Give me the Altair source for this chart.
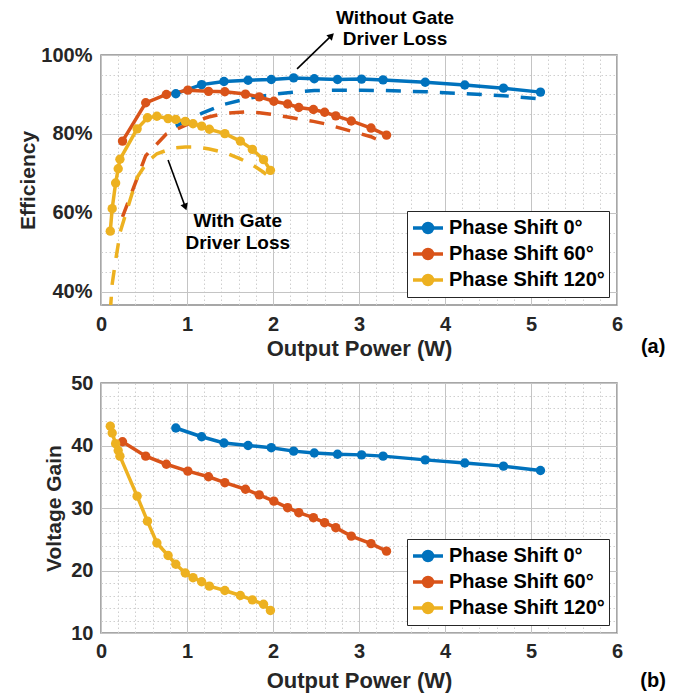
import altair as alt
import pandas as pd

FONT = "Liberation Sans"
SERIES = ["Phase Shift 0°", "Phase Shift 60°", "Phase Shift 120°"]
COLORS = ["#0072BD", "#D95319", "#EDB120"]

# ---- Phase shift 0 deg
p0_x = [0.87, 1.17, 1.43, 1.71, 1.98, 2.24, 2.48, 2.75, 3.03, 3.28, 3.77, 4.23, 4.68, 5.11]
p0_eff = [90.2, 92.5, 93.3, 93.6, 93.8, 94.2, 94.0, 93.8, 93.9, 93.7, 93.1, 92.4, 91.6, 90.6]
p0_eff_gd = [82.0, 85.2, 87.5, 89.0, 90.0, 90.6, 91.0, 91.1, 91.1, 91.0, 90.7, 90.2, 89.7, 88.9]
p0_gain = [42.8, 41.4, 40.4, 40.0, 39.65, 39.1, 38.8, 38.6, 38.5, 38.3, 37.7, 37.2, 36.7, 36.0]

# ---- Phase shift 60 deg
p60_x = [0.25, 0.52, 0.76, 1.01, 1.25, 1.44, 1.68, 1.84, 2.01, 2.17, 2.30, 2.47, 2.60, 2.73, 2.91, 3.14, 3.32]
p60_eff = [78.2, 87.9, 90.0, 91.1, 90.8, 90.7, 90.1, 89.4, 88.3, 87.6, 86.7, 86.2, 85.5, 84.6, 83.3, 81.5, 79.7]
p60_eff_gd = [59.0, 74.5, 80.0, 82.5, 84.3, 85.2, 85.6, 85.4, 84.9, 84.3, 83.8, 83.2, 82.6, 81.8, 80.7, 79.3, 77.5]
p60_gain = [40.6, 38.3, 37.0, 35.9, 35.0, 34.05, 33.0, 32.1, 31.1, 30.05, 29.25, 28.45, 27.65, 26.85, 25.5, 24.3, 23.1]

# ---- Phase shift 120 deg
p120_x = [0.108, 0.13, 0.17, 0.20, 0.22, 0.42, 0.54, 0.65, 0.78, 0.87, 0.98, 1.07, 1.17, 1.26, 1.44, 1.62, 1.76, 1.89, 1.97]
p120_eff = [55.4, 61.1, 67.6, 71.2, 73.6, 81.3, 84.1, 84.5, 83.9, 83.7, 83.2, 82.6, 82.0, 81.2, 80.1, 78.2, 76.1, 73.5, 70.8]
p120_eff_gd = [35.0, 42.0, 48.0, 52.0, 55.0, 69.0, 73.0, 75.0, 76.0, 76.5, 76.7, 76.7, 76.5, 76.2, 75.3, 73.7, 72.2, 70.3, 69.0]
p120_gain = [43.1, 42.0, 40.3, 39.2, 38.3, 31.9, 27.9, 24.4, 22.4, 21.0, 19.6, 18.85, 18.2, 17.5, 16.8, 16.0, 15.3, 14.6, 13.6]

# ---- axis ticks
x_major = [0, 1, 2, 3, 4, 5, 6]
x_minor = [i / 5 for i in range(31)]
eff_major = [40, 60, 80, 100]
eff_minor = [40 + 5 * i for i in range(13)]
gain_major = [10, 20, 30, 40, 50]
gain_minor = [10 + 2 * i for i in range(21)]

# ---- annotations (data coordinates of panel a)
arrow_x = [2.28, 0.78]
arrow_y = [96.5, 73.4]
arrow_x2 = [2.68, 0.98]
arrow_y2 = [104.9, 61.5]
arrow_angle = [45, 160]
note_text = ["Without Gate", "Driver Loss", "With Gate", "Driver Loss"]
note_x = [3.42, 3.42, 1.59, 1.59]
note_y = [109.3, 104.1, 58.0, 52.4]


def long_df(xs, ys):
    rows = []
    for s, xv, yv in zip(SERIES, xs, ys):
        for a, b in zip(xv, yv):
            rows.append({"x": a, "y": b, "series": s})
    return pd.DataFrame(rows)


eff_df = long_df([p0_x, p60_x, p120_x], [p0_eff, p60_eff, p120_eff])
eff_gd_df = long_df([p0_x, p60_x, p120_x], [p0_eff_gd, p60_eff_gd, p120_eff_gd])
gain_df = long_df([p0_x, p60_x, p120_x], [p0_gain, p60_gain, p120_gain])

LABEL_STYLE = dict(labelFont=FONT, labelFontSize=20, labelFontWeight="bold", labelColor="#262626",
                   titleFont=FONT, titleFontWeight="bold", titleColor="#262626")


def make_legend():
    return alt.Legend(
        title=None,
        orient="bottom-right",
        offset=8,
        symbolType="M-1,0L1,0M-0.3,0A0.3,0.3,0,1,1,0.3,0A0.3,0.3,0,1,1,-0.3,0Z",
        symbolSize=900,
        symbolStrokeWidth=3.5,
        labelFont=FONT,
        labelFontSize=20,
        labelFontWeight="bold",
        labelColor="#000000",
        labelLimit=400,
        labelOffset=4,
        strokeColor="#262626",
        fillColor="white",
        padding=4,
        rowPadding=0,
        clipHeight=26,
    )


def major_axis(values, title, orient, lp, tp, title_size, label_expr=None):
    kw = dict(values=values, grid=True, gridColor="#c4c4c4", gridWidth=1, title=title,
              ticks=False, domain=False, labelPadding=lp, titlePadding=tp, orient=orient,
              labelFlush=False, labelOverlap=False, format="d", titleFontSize=title_size,
              **LABEL_STYLE)
    if label_expr:
        kw["labelExpr"] = label_expr
    return alt.Axis(**kw)


def minor_axis(values, orient):
    return alt.Axis(values=values, grid=True, gridColor="#cfcfcf", gridDash=[1.5, 2.5],
                    gridWidth=1, labels=False, ticks=False, domain=False, title=None,
                    orient=orient)


def panel(solid_df, dash_df, y_domain, y_major, y_minor, y_title, y_label_expr,
          width, x_lp, x_tp, y_lp, y_tp, extra_layers):
    xs = alt.Scale(domain=[0, 6], nice=False, zero=False)
    ys = alt.Scale(domain=y_domain, nice=False, zero=False)
    stroke = alt.Stroke("series:N", scale=alt.Scale(domain=SERIES, range=COLORS),
                        legend=make_legend(), sort=SERIES)
    fill = alt.Fill("series:N", scale=alt.Scale(domain=SERIES, range=COLORS),
                    legend=make_legend(), sort=SERIES)
    base = alt.Chart(solid_df)
    minor = base.mark_point(opacity=0).encode(
        x=alt.X("x:Q", scale=xs, axis=minor_axis(x_minor, "bottom")),
        y=alt.Y("y:Q", scale=ys, axis=minor_axis(y_minor, "left")),
    )
    line = base.mark_line(strokeWidth=3.5).encode(
        x=alt.X("x:Q", scale=xs, axis=major_axis(x_major, "Output Power (W)", "bottom", x_lp, x_tp, 22)),
        y=alt.Y("y:Q", scale=ys, axis=major_axis(y_major, y_title, "left", y_lp, y_tp, 21, y_label_expr)),
        stroke=stroke, order=alt.Order("x:Q"))
    pts = base.mark_point(filled=True, size=88, opacity=1, strokeWidth=0).encode(
        x=alt.X("x:Q", scale=xs, axis=None), y=alt.Y("y:Q", scale=ys, axis=None), fill=fill)
    layers = [minor]
    if dash_df is not None:
        dash = alt.Chart(dash_df).mark_line(strokeWidth=3.5, strokeDash=[15, 12], clip=True).encode(
            x=alt.X("x:Q", scale=xs, axis=None), y=alt.Y("y:Q", scale=ys, axis=None),
            stroke=stroke, order=alt.Order("x:Q"))
        layers.append(dash)
    layers += [line, pts]
    for lay in extra_layers:
        layers.append(lay(xs, ys))
    return alt.layer(*layers).resolve_axis(x="independent", y="independent").properties(
        width=width, height=250)


def text_layer(df, size, color="black"):
    def build(xs, ys):
        return alt.Chart(df).mark_text(font=FONT, fontSize=size, fontWeight="bold", color=color).encode(
            x=alt.X("x:Q", scale=xs, axis=None), y=alt.Y("y:Q", scale=ys, axis=None), text="t:N")
    return build


arr_df = pd.DataFrame({"x": arrow_x, "y": arrow_y, "x2": arrow_x2, "y2": arrow_y2, "angle": arrow_angle})
note_df = pd.DataFrame({"x": note_x, "y": note_y, "t": note_text})
tag_a = pd.DataFrame({"x": [6.42], "y": [26.1], "t": ["(a)"]})
tag_b = pd.DataFrame({"x": [6.42], "y": [2.3], "t": ["(b)"]})


def rules_layer(xs, ys):
    return alt.Chart(arr_df).mark_rule(color="black", strokeWidth=1.6).encode(
        x=alt.X("x:Q", scale=xs, axis=None), y=alt.Y("y:Q", scale=ys, axis=None),
        x2="x2:Q", y2="y2:Q")


def heads_layer(xs, ys):
    return alt.Chart(arr_df).mark_point(shape="triangle-up", filled=True, color="black",
                                        size=60, opacity=1).encode(
        x=alt.X("x2:Q", scale=xs, axis=None), y=alt.Y("y2:Q", scale=ys, axis=None),
        angle=alt.Angle("angle:Q", scale=None))


top = panel(eff_df, eff_gd_df, [36.7, 100], eff_major, eff_minor, "Efficiency",
            "datum.value + '%'", 516, 9, 4, 9, 2,
            [rules_layer, heads_layer, text_layer(note_df, 19), text_layer(tag_a, 20)])
bottom = panel(gain_df, None, [10, 50], gain_major, gain_minor, "Voltage Gain", None,
               516, 8, 9, 8, 6, [text_layer(tag_b, 20)])

chart = alt.vconcat(top, bottom, spacing=12).resolve_scale(
    stroke="independent", fill="independent").resolve_legend(
    stroke="independent", fill="independent").properties(
    padding={"left": 9, "top": 0, "right": 5, "bottom": 5}, background="white"
).configure_view(stroke="#8a8a8a", strokeWidth=1.5)

chart.save("out.html", embed_options={"renderer": "svg", "actions": False})
